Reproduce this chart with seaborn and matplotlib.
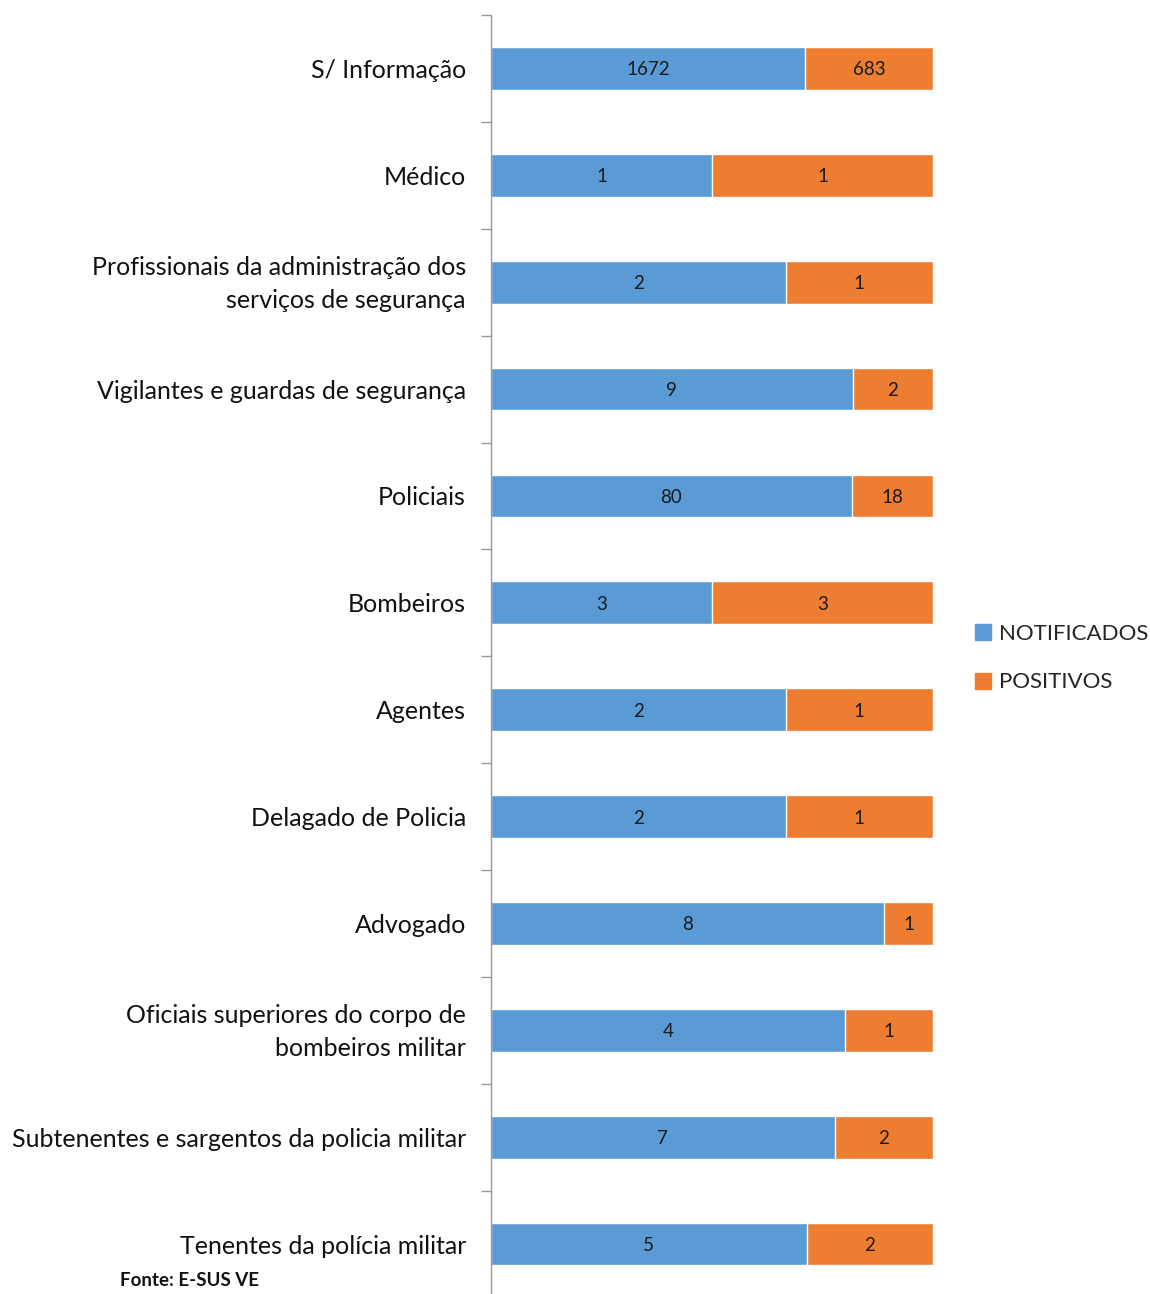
import pandas as pd
import matplotlib.pyplot as plt
import matplotlib.transforms as mtransforms
import seaborn as sns
from matplotlib.lines import Line2D

sns.set_style("white")
plt.rcParams['font.family'] = ['Lato', 'DejaVu Sans']

# Data
categorias = [
    "S/ Informação",
    "Médico",
    "Profissionais da administração dos\nserviços de segurança",
    "Vigilantes e guardas de segurança",
    "Policiais",
    "Bombeiros",
    "Agentes",
    "Delagado de Policia",
    "Advogado",
    "Oficiais superiores do corpo de\nbombeiros militar",
    "Subtenentes e sargentos da policia militar",
    "Tenentes da polícia militar",
]
notificados = [1672, 1, 2, 9, 80, 3, 2, 2, 8, 4, 7, 5]
positivos = [683, 1, 1, 2, 18, 3, 1, 1, 1, 1, 2, 2]

azul = '#5B9BD5'
laranja = '#ED7D31'

df = pd.DataFrame({'cat': categorias, 'notif': notificados, 'pos': positivos})
df['total'] = df['notif'] + df['pos']
df['share_n'] = df['notif'] / df['total']
df['full'] = 1.0

fig = plt.figure(figsize=(11.5, 12.94), dpi=100)
ax = fig.add_axes([491 / 1150, 1 - 1297.5 / 1294, 442 / 1150, 1282.5 / 1294])

# 100% stacked: orange full bar, blue share on top
sns.barplot(data=df, x='full', y='cat', orient='h', color=laranja,
            width=0.4, saturation=1, ax=ax)
sns.barplot(data=df, x='share_n', y='cat', orient='h', color=azul,
            width=0.4, saturation=1, ax=ax)

for i, row in df.iterrows():
    ax.text(row['share_n'] / 2, i, str(row['notif']), ha='center', va='center_baseline',
            fontsize=13.5, color='#1a1a1a')
    ax.text((1 + row['share_n']) / 2, i, str(row['pos']), ha='center', va='center_baseline',
            fontsize=13.5, color='#1a1a1a')

ax.set_xlim(0, 1)
ax.set_ylim(len(categorias) - 0.5, -0.5)
ax.set_xlabel('')
ax.set_ylabel('')
ax.set_xticks([])

ax.set_yticks(range(len(categorias)))
ax.set_yticklabels(categorias, fontsize=18, color='#111111', linespacing=1.5)
ax.tick_params(axis='y', which='major', left=True, length=0, pad=18)
ax.set_yticks([i - 0.5 for i in range(len(categorias) + 1)], minor=True)
ax.tick_params(axis='y', which='minor', left=True, length=7, width=1,
               color='#999999', direction='out')

# two-line labels sit a bit higher in the original
up = mtransforms.ScaledTranslation(0, 5 / 100, fig.dpi_scale_trans)
for lbl in ax.get_yticklabels():
    if '\n' in lbl.get_text():
        lbl.set_transform(lbl.get_transform() + up)

for s in ['top', 'right', 'bottom']:
    ax.spines[s].set_visible(False)
ax.spines['left'].set_color('#999999')
ax.spines['left'].set_linewidth(1)

handles = [
    Line2D([], [], marker='s', linestyle='', markersize=11, color=azul, label='NOTIFICADOS'),
    Line2D([], [], marker='s', linestyle='', markersize=11, color=laranja, label='POSITIVOS'),
]
fig.legend(handles=handles, loc='center left', bbox_to_anchor=(961 / 1150, 1 - 658 / 1294),
           frameon=False, fontsize=16, handletextpad=0.1, labelspacing=1.3,
           handlelength=1.2, borderaxespad=0)

fig.text(120 / 1150, 1 - 1281 / 1294, 'Fonte: E-SUS VE', fontsize=13.5, fontweight='bold',
         ha='left', va='center', color='#111111')

fig.savefig('out.png', dpi=100)
